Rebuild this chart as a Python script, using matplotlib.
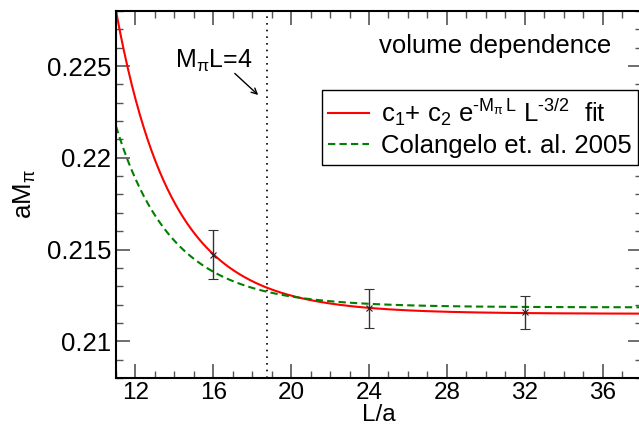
import numpy as np
import matplotlib.pyplot as plt
from matplotlib.ticker import MultipleLocator

plt.rcParams['font.family'] = ['Liberation Sans', 'DejaVu Sans']
plt.rcParams['mathtext.fontset'] = 'custom'
plt.rcParams['mathtext.rm'] = 'Liberation Sans'
plt.rcParams['mathtext.it'] = 'Liberation Sans'
plt.rcParams['mathtext.sf'] = 'Liberation Sans'

# data points: L/a, aM_pi, error
L_pts = [16, 24, 32]
m_pts = [0.21473, 0.21180, 0.21157]
m_err = [0.00132, 0.00105, 0.00088]

# fit parameters
M_pi = 0.213
c1_fit, c2_fit = 0.21150, 6.27
c1_col, c2_col = 0.21185, 3.75

L = np.linspace(11, 38, 400)
fit = c1_fit + c2_fit * np.exp(-M_pi * L) * L**-1.5
col = c1_col + c2_col * np.exp(-M_pi * L) * L**-1.5

fs = 18.5

fig = plt.figure(figsize=(6.39, 4.28), dpi=100)
ax = fig.add_axes([116/639, 50/428, (641.5 - 116)/639, 367/428])

ax.plot(L, fit, color='red', lw=1.5,
        label=r'c$_1$+ c$_2$ e$^{\text{-}\mathrm{M}_{\pi}\, \mathrm{L}}$ L$^{\text{-}3/2}$  fit')
ax.plot(L, col, color='#008000', lw=1.5, ls=(0, (3.5, 2)),
        label='Colangelo et. al. 2005')
ax.errorbar(L_pts, m_pts, yerr=m_err, fmt='x', color='#222222', ms=5,
            mew=0.8, elinewidth=1.0, capsize=3.6, capthick=1.0, ecolor='#333333')

ax.axvline(4 / M_pi, color='black', ls=(0, (1, 3)), lw=1.2)
ax.text(14.04, 0.2249, r'M$_{\pi}$L=4', fontsize=fs - 0.5, ha='left', va='baseline')
ax.annotate('', xy=(18.41, 0.22332), xytext=(17.0, 0.22470),
            arrowprops=dict(arrowstyle='->', color='black', lw=1))
ax.text(0.942, 0.905, 'volume dependence', transform=ax.transAxes,
        fontsize=fs, ha='right', va='center')

ax.set_xlim(11, 38)
ax.set_ylim(0.208, 0.228)
ax.xaxis.set_major_locator(MultipleLocator(4))
ax.xaxis.set_minor_locator(MultipleLocator(1))
ax.yaxis.set_minor_locator(MultipleLocator(0.001))
ax.set_yticks([0.21, 0.215, 0.22, 0.225])
ax.set_yticklabels(['0.21', '0.215', '0.22', '0.225'])
ax.tick_params(which='both', direction='in', top=True, right=True,
               labelsize=fs, color='#555555')
ax.tick_params(which='major', length=10, width=1.2)
ax.tick_params(which='minor', length=5, width=1)
ax.tick_params(axis='x', pad=3, labelsize=17.5)
for s in ax.spines.values():
    s.set_linewidth(1.5)

ax.set_xlabel('L/a', fontsize=17.5, labelpad=0)
ax.set_ylabel(r'aM$_{\pi}$', fontsize=fs, labelpad=6)

leg = ax.legend(loc='upper right', bbox_to_anchor=(638/639, 1 - 90/428),
                bbox_transform=fig.transFigure, fontsize=fs, frameon=True,
                fancybox=False, edgecolor='black', framealpha=1,
                handlelength=1.6, borderpad=0.25, labelspacing=0.25,
                handletextpad=0.45, borderaxespad=0)
leg.get_frame().set_linewidth(1)

fig.savefig('out.png', dpi=100)
